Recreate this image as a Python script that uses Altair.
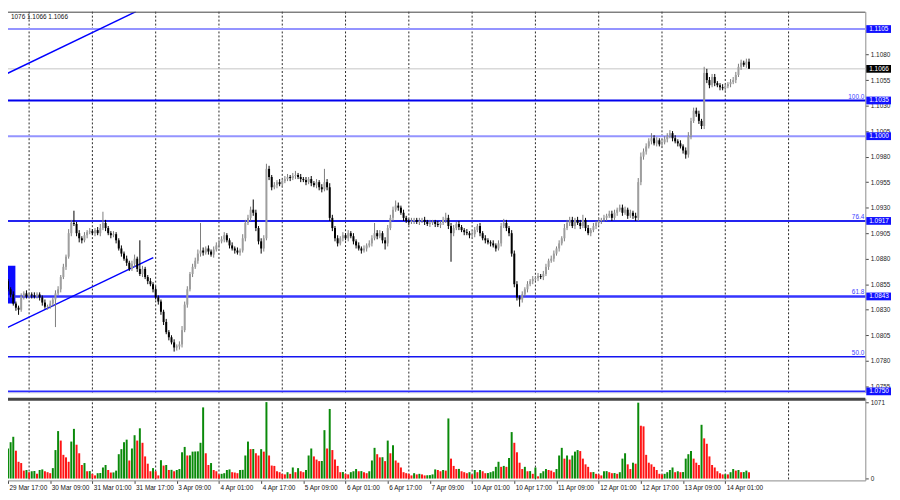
import json
import altair as alt
import pandas as pd

# ---------------- data (prices in pips above 1.0000, e.g. 843 -> 1.0843) ----------------
first_bar = -1            # bar 0 = 29 Mar 17:00, one H1 bar per index
open_first = 860          # open of the first visible bar
close_pips = [
    858, 850, 845, 836, 832, 830, 843, 846, 843, 845, 844, 843, 845, 842, 837, 833, 833, 836, 840, 846,
    850, 862, 872, 882, 905, 915, 914, 905, 900, 898, 903, 906, 907, 905, 908, 905, 910, 915, 910, 905,
    903, 904, 898, 890, 885, 880, 876, 870, 875, 880, 870, 865, 870, 862, 858, 855, 850, 842, 838, 828,
    818, 808, 803, 798, 793, 794, 796, 810, 835, 850, 865, 872, 878, 885, 888, 886, 890, 887, 884, 889,
    893, 897, 899, 903, 898, 893, 890, 888, 886, 888, 900, 915, 920, 928, 925, 910, 897, 890, 900, 968,
    960, 950, 952, 955, 953, 956, 958, 960, 959, 961, 962, 960, 958, 957, 955, 958, 954, 952, 955, 950,
    948, 955, 950, 920, 910, 900, 895, 900, 903, 900, 905, 902, 897, 893, 890, 888, 890, 893, 895, 900,
    905, 902, 905, 898, 895, 910, 920, 928, 932, 930, 925, 920, 917, 916, 917, 918, 916, 917, 918, 916,
    914, 915, 916, 914, 913, 915, 918, 920, 912, 905, 910, 914, 911, 908, 906, 905, 903, 904, 908, 912,
    905, 900, 898, 896, 895, 893, 890, 895, 912, 915, 910, 905, 885, 855, 842, 840, 845, 850, 855, 858,
    860, 861, 863, 862, 865, 872, 878, 880, 885, 890, 895, 900, 910, 915, 918, 912, 918, 915, 912, 918,
    910, 905, 908, 912, 915, 917, 918, 920, 922, 924, 920, 925, 928, 930, 925, 928, 922, 925, 922, 920,
    955, 980, 985, 990, 995, 998, 993, 996, 992, 994, 997, 1000, 1003, 998, 995, 993, 990, 986, 982, 1000,
    1015, 1025, 1022, 1015, 1010, 1062, 1055, 1050, 1058, 1052, 1050, 1048, 1047, 1049, 1051, 1053, 1055, 1060, 1068, 1072,
    1070, 1073, 1066,
]
wick_up = [
    3, 2, 2, 3, 2, 2, 3, 2, 3, 2, 2, 3, 2, 2, 2, 3, 2, 3, 2, 3,
    3, 2, 3, 2, 4, 3, 12, 2, 3, 2, 3, 2, 3, 2, 2, 3, 4, 11, 3, 2,
    2, 3, 2, 2, 3, 2, 3, 2, 3, 4, 2, 28, 3, 2, 2, 3, 2, 3, 2, 2,
    2, 3, 2, 2, 3, 2, 3, 4, 3, 3, 2, 3, 3, 4, 27, 3, 2, 3, 2, 3,
    3, 2, 3, 3, 2, 2, 3, 2, 3, 2, 4, 3, 3, 3, 10, 3, 2, 3, 3, 5,
    3, 2, 3, 2, 3, 2, 3, 3, 2, 3, 4, 2, 3, 2, 3, 2, 3, 2, 3, 2,
    3, 13, 3, 4, 3, 2, 3, 2, 3, 2, 3, 2, 3, 2, 3, 2, 3, 2, 3, 3,
    10, 3, 3, 2, 3, 3, 3, 3, 5, 3, 2, 3, 2, 2, 3, 2, 2, 3, 2, 3,
    2, 3, 2, 2, 3, 2, 3, 5, 3, 3, 3, 2, 3, 2, 2, 3, 2, 3, 3, 2,
    3, 2, 3, 2, 2, 3, 2, 3, 3, 4, 3, 2, 3, 3, 3, 2, 3, 2, 3, 2,
    3, 2, 3, 2, 3, 3, 2, 3, 3, 2, 3, 2, 4, 3, 3, 3, 2, 3, 3, 5,
    2, 3, 2, 3, 2, 3, 2, 3, 2, 3, 3, 3, 2, 3, 3, 3, 2, 3, 2, 3,
    4, 4, 3, 3, 3, 5, 3, 3, 2, 3, 3, 3, 3, 2, 3, 2, 3, 2, 3, 4,
    3, 3, 3, 3, 2, 6, 4, 3, 3, 3, 2, 2, 3, 2, 2, 3, 3, 3, 3, 3,
    2, 3, 3,
]
wick_dn = [
    3, 2, 3, 2, 3, 5, 2, 3, 2, 2, 3, 2, 2, 3, 3, 2, 3, 2, 3, 27,
    2, 3, 2, 3, 2, 3, 2, 3, 4, 3, 2, 3, 2, 2, 3, 2, 3, 2, 3, 2,
    3, 2, 3, 2, 3, 2, 3, 2, 2, 3, 3, 2, 3, 2, 3, 2, 3, 2, 3, 3,
    3, 2, 3, 2, 4, 3, 3, 3, 2, 3, 2, 3, 2, 3, 3, 3, 2, 3, 2, 3,
    2, 3, 2, 3, 2, 3, 2, 3, 2, 3, 2, 3, 2, 3, 3, 3, 3, 5, 3, 2,
    3, 3, 2, 3, 2, 3, 2, 2, 3, 2, 3, 2, 3, 2, 3, 2, 3, 2, 3, 3,
    3, 2, 3, 3, 3, 3, 3, 2, 3, 2, 3, 2, 3, 3, 2, 3, 2, 3, 2, 3,
    2, 3, 2, 3, 6, 3, 2, 3, 2, 3, 2, 3, 2, 3, 2, 3, 2, 3, 2, 3,
    2, 3, 2, 3, 2, 3, 2, 3, 3, 28, 3, 2, 3, 2, 3, 2, 3, 2, 3, 2,
    3, 2, 3, 2, 3, 2, 3, 2, 3, 2, 3, 3, 3, 3, 3, 7, 3, 2, 3, 2,
    3, 2, 3, 2, 3, 2, 3, 2, 3, 2, 3, 2, 3, 2, 3, 2, 3, 2, 3, 2,
    3, 2, 3, 2, 3, 2, 3, 2, 3, 2, 3, 2, 3, 2, 3, 2, 3, 2, 3, 3,
    3, 3, 3, 3, 2, 3, 2, 3, 2, 3, 2, 3, 2, 3, 2, 3, 2, 3, 4, 3,
    3, 2, 3, 3, 3, 3, 3, 3, 2, 3, 2, 3, 2, 3, 2, 3, 2, 3, 2, 3,
    2, 3, 0,
]
volume = [
    332, 421, 509, 585, 390, 235, 217, 111, 120, 89, 102, 104, 66, 120, 128, 102, 89, 75, 146, 399,
    665, 532, 332, 297, 235, 518, 696, 474, 354, 190, 217, 102, 104, 66, 44, 75, 78, 155, 190, 120,
    84, 86, 111, 341, 412, 509, 545, 253, 421, 607, 532, 704, 501, 310, 208, 102, 146, 102, 44, 257,
    182, 190, 120, 122, 102, 120, 133, 368, 443, 323, 325, 377, 379, 381, 501, 997, 354, 190, 217, 120,
    102, 58, 66, 75, 120, 128, 89, 84, 75, 120, 122, 323, 518, 412, 414, 354, 323, 412, 377, 1071,
    323, 182, 177, 102, 89, 66, 58, 89, 66, 155, 89, 146, 102, 89, 120, 323, 421, 310, 266, 244,
    246, 678, 421, 975, 399, 266, 177, 89, 91, 66, 58, 89, 102, 133, 102, 104, 89, 75, 102, 253,
    430, 341, 297, 299, 244, 532, 354, 465, 253, 222, 155, 89, 75, 66, 44, 75, 58, 66, 58, 44,
    46, 48, 58, 128, 120, 102, 120, 111,
    842, 279, 177, 133, 135, 102, 89, 75, 89, 58, 120, 89, 120, 102, 75, 77, 89, 102, 164, 235,
    164, 177, 164, 288, 651, 501, 368, 222, 133, 164, 102, 104, 66, 155, 31, 75, 102, 133, 120, 111,
    89, 133, 323, 430, 279, 323, 266, 323, 377, 399, 385, 279, 199, 164, 89, 91, 66, 58, 44, 102,
    104, 89, 75, 77, 66, 89, 279, 354, 199, 133, 222, 208, 1063, 740, 731, 332, 222, 199, 164, 120,
    66, 58, 66, 89, 120, 155, 89, 102, 89, 91, 279, 341, 385, 279, 222, 190, 753, 563, 487, 310,
    190, 155, 102, 75, 58, 60, 58, 89, 133, 111, 120, 89, 91, 111, 89,
]

x_labels = ["29 Mar 17:00", "30 Mar 09:00", "31 Mar 01:00", "31 Mar 17:00", "3 Apr 09:00",
            "4 Apr 01:00", "4 Apr 17:00", "5 Apr 09:00", "6 Apr 01:00", "6 Apr 17:00",
            "7 Apr 09:00", "10 Apr 01:00", "10 Apr 17:00", "11 Apr 09:00", "12 Apr 01:00",
            "12 Apr 17:00", "13 Apr 09:00", "14 Apr 01:00"]
label_step = 16
grid_bars = [8, 32, 56, 80, 104, 128, 152, 176, 200, 224, 248, 272, 296]
price_ticks = [1.0755, 1.0780, 1.0805, 1.0830, 1.0855, 1.0880, 1.0905, 1.0930,
               1.0955, 1.0980, 1.1005, 1.1030, 1.1055, 1.1080]
vol_ticks = [0, 1071]

level_price = [1.1105, 1.1066, 1.1035, 1.1000, 1.0917, 1.0843, 1.0784, 1.0750]
level_color = ["#9494ff", "#c4c4c4", "#0000ee", "#9494ff", "#2424f0", "#3434ff", "#1414f0", "#2a2aff"]
level_width = [2, 1, 2, 2, 2, 2.5, 1.5, 2]
box_price = [1.1105, 1.1066, 1.1035, 1.1000, 1.0917, 1.0843, 1.0750]
box_fill = ["#1010ff", "#000000", "#1010ff", "#1010ff", "#1010ff", "#1010ff", "#1010ff"]
fib_price = [1.1035, 1.0917, 1.0843, 1.0784]
fib_text = ["100.0", "76.4", "61.8", "50.0"]

trend_bar = [-2.25, 48.5, -2.25, 55.1]
trend_price = [1.1059, 1.1122, 1.0810, 1.0881]
trend_id = ["a", "a", "b", "b"]
rect_bar = [-2.25, 2.8]
rect_price = [1.0836, 1.0873]
header = "1076 1.1066 1.1066"

# ---------------- build tables ----------------
rows = []
for k, c in enumerate(close_pips):
    o = close_pips[k - 1] if k > 0 else open_first
    hi = max(o, c) + wick_up[k]
    lo = min(o, c) - wick_dn[k]
    up = c >= o
    b_lo, b_hi = min(o, c), max(o, c)
    if b_lo == b_hi:
        b_lo -= 0.4
        b_hi += 0.4
    v = volume[k]
    vup = True if k == 0 else v > volume[k - 1]
    rows.append({
        "bar": first_bar + k,
        "bo": 1 + b_lo / 10000, "bc": 1 + b_hi / 10000,
        "hi": 1 + hi / 10000, "lo": 1 + lo / 10000,
        "wcol": "#7c7c7c" if up else "#000000",
        "bcol": "#9e9e9e" if up else "#000000",
        "vol": v, "v0": 0,
        "vcol": "#0a8a0a" if vup else "#ff1414",
    })
df = pd.DataFrame(rows)

W, HP, HV = 873, 385, 83
FONT = "Liberation Sans"
FS = 6.5
PIP = 0.0001

xs = alt.Scale(domain=[-2.25, 325.1], nice=False, zero=False, padding=0)
ps = alt.Scale(domain=[1.0749, 1.1122], nice=False, zero=False, padding=0)
vs = alt.Scale(domain=[-26, 1124], nice=False, zero=False, padding=0)

price_axis = alt.Axis(orient="right", values=price_ticks, format=".4f", title=None,
                      domain=True, domainColor="#9a9a9a", ticks=True, tickSize=3,
                      tickColor="#444", labelPadding=2, labelFontSize=FS, labelFont=FONT,
                      labelColor="#222", grid=False, labelOverlap=False, labelFlush=False)
vol_axis = alt.Axis(orient="right", values=vol_ticks, format="d", title=None, domain=True,
                    domainColor="#9a9a9a", ticks=True, tickSize=3, tickColor="#444",
                    labelPadding=2, labelFontSize=FS, labelFont=FONT, labelColor="#222",
                    grid=False, labelOverlap=False, labelFlush=False)
x_axis = alt.Axis(orient="bottom", values=[i * label_step for i in range(len(x_labels))],
                  labelExpr=json.dumps(x_labels) + f"[round(datum.value/{label_step})]",
                  title=None, domain=True, domainColor="#9a9a9a", ticks=True, tickSize=3,
                  tickColor="#444", labelAlign="left", labelOffset=1, labelPadding=1,
                  labelFontSize=FS, labelFont=FONT, labelColor="#111", grid=False,
                  labelOverlap=False, labelFlush=False)


def XP(field="bar"):
    return alt.X(f"{field}:Q", scale=xs, axis=None, title=None)


def XV(field="bar"):
    return alt.X(f"{field}:Q", scale=xs, axis=x_axis, title=None)


def YP(field):
    return alt.Y(f"{field}:Q", scale=ps, axis=price_axis, title=None)


grid_df = pd.DataFrame({"bar": grid_bars})
grid_p = alt.Chart(grid_df).mark_rule(color="#000", strokeWidth=1, strokeDash=[2, 2], opacity=0.85).encode(x=XP())

rect_df = pd.DataFrame({"x1": [rect_bar[0]], "x2": [rect_bar[1]], "y1": [rect_price[0]], "y2": [rect_price[1]]})
blue_rect = alt.Chart(rect_df).mark_rect(color="#0a0aff", clip=True).encode(
    x=XP("x1"), x2="x2:Q", y=YP("y1"), y2="y2:Q")

lev_df = pd.DataFrame({"price": level_price, "col": level_color, "w": level_width})
levels = alt.Chart(lev_df).mark_rule().encode(
    y=YP("price"), color=alt.Color("col:N", scale=None),
    strokeWidth=alt.StrokeWidth("w:Q", scale=None))

trend_df = pd.DataFrame({"bar": trend_bar, "price": trend_price, "id": trend_id})
trends = alt.Chart(trend_df).mark_line(color="#0000ff", strokeWidth=1.5, clip=True).encode(
    x=XP(), y=YP("price"), detail="id:N")

wicks = alt.Chart(df).mark_rule(strokeWidth=1).encode(
    x=XP(), y=YP("lo"), y2="hi:Q", color=alt.Color("wcol:N", scale=None))
bodies = alt.Chart(df).mark_bar(size=2).encode(
    x=XP(), y=YP("bo"), y2="bc:Q", color=alt.Color("bcol:N", scale=None))

fib_df = pd.DataFrame({"price": fib_price, "label": fib_text})
fibs = alt.Chart(fib_df).mark_text(align="right", baseline="bottom", dy=-1, fontSize=FS,
                                   font=FONT, color="#3c3cff").encode(
    x=alt.value(W - 1), y=YP("price"), text="label:N")

box_df = pd.DataFrame({"price": box_price, "fill": box_fill,
                       "txt": [f"{p:.4f}" for p in box_price]})
box_df["lo"] = box_df["price"] - 3.8 * PIP
box_df["hi"] = box_df["price"] + 3.8 * PIP
boxes = alt.Chart(box_df).mark_rect().encode(
    x=alt.value(W + 1), x2=alt.value(W + 26), y=YP("lo"), y2="hi:Q",
    color=alt.Color("fill:N", scale=None))
box_txt = alt.Chart(box_df).mark_text(align="left", baseline="middle", fontSize=FS,
                                      font=FONT, color="#ffffff").encode(
    x=alt.value(W + 4), y=YP("price"), text="txt:N")

head = alt.Chart(pd.DataFrame({"t": [header]})).mark_text(
    align="left", baseline="top", fontSize=FS, font=FONT, color="#111").encode(
    x=alt.value(9), y=alt.value(2), text="t:N")
top_border = alt.Chart(pd.DataFrame({"a": [0]})).mark_rule(color="#505050", strokeWidth=1).encode(
    x=alt.value(0), x2=alt.value(W), y=alt.value(0.5))

price_panel = alt.layer(grid_p, blue_rect, levels, trends, wicks, bodies, fibs,
                        boxes, box_txt, head, top_border).properties(width=W, height=HP)

grid_v = alt.Chart(grid_df).mark_rule(color="#000", strokeWidth=1, strokeDash=[2, 2], opacity=0.85).encode(x=XV())
vbars = alt.Chart(df).mark_bar(size=2).encode(
    x=XV(), y=alt.Y("vol:Q", scale=vs, axis=vol_axis, title=None), y2="v0:Q",
    color=alt.Color("vcol:N", scale=None))
sep = alt.Chart(pd.DataFrame({"a": [0]})).mark_rule(color="#454545", strokeWidth=3).encode(
    x=alt.value(0), x2=alt.value(W), y=alt.value(1))
vol_panel = alt.layer(grid_v, vbars, sep).properties(width=W, height=HV)

chart = alt.vconcat(price_panel, vol_panel, spacing=1).properties(
    padding={"left": -8, "top": 0, "right": 0, "bottom": -2}
).configure_view(stroke=None).configure(font=FONT, background="#ffffff")

chart.save("out.html", embed_options={"renderer": "svg", "actions": False})
